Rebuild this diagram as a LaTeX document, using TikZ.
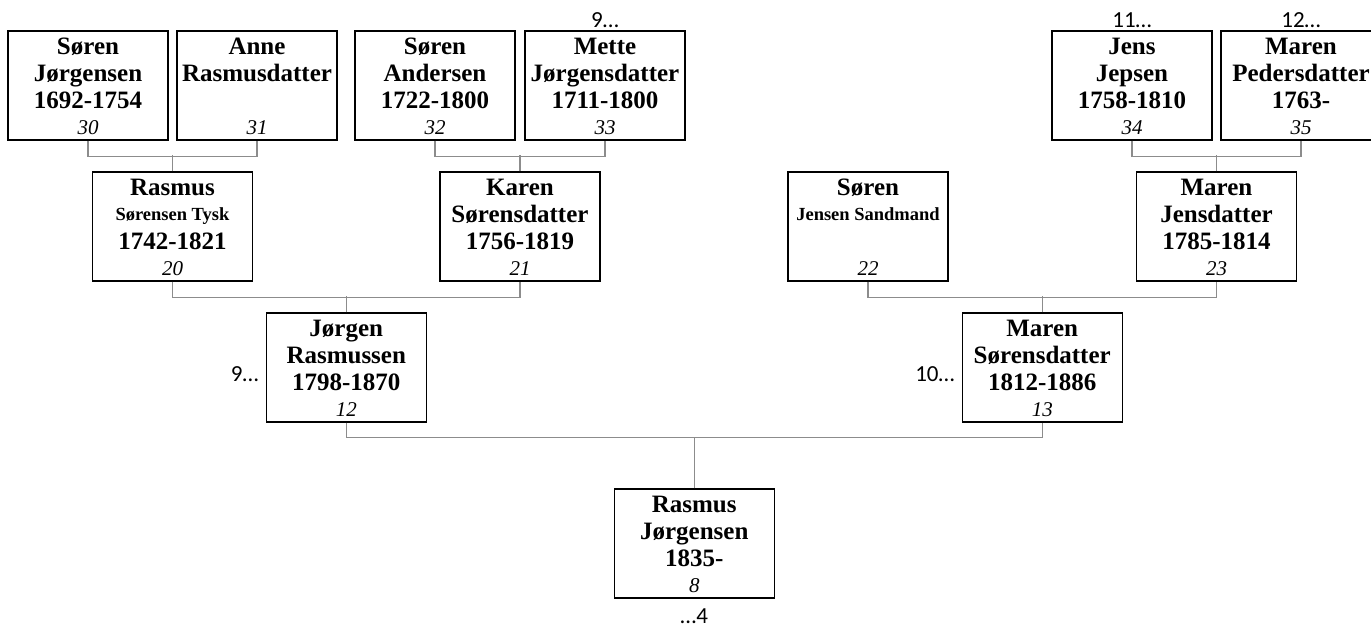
\documentclass[tikz,border=0pt]{standalone}
\usepackage{fontspec}
\setmainfont{Liberation Serif}
\newfontfamily\lblfont{Carlito}
\usetikzlibrary{calc}
\tikzset{
  pbox/.style={draw=black, line width=1.1pt, minimum width=160pt, minimum height=109pt, inner sep=0pt, fill=white},
  nm/.style={font=\fontsize{25}{27}\selectfont\bfseries, inner sep=0pt, anchor=base},
  num/.style={font=\fontsize{21}{22}\selectfont\itshape, inner sep=0pt, anchor=base},
  lbl/.style={font=\fontsize{23}{24}\selectfont\lblfont, inner sep=0pt},
  conn/.style={draw=black!45, line width=1.1pt}
}
\newcommand\sm[1]{{\fontsize{18.5}{20}\selectfont #1}}
% #1 id, #2 center x, #3 top y, #4 line1, #5 line2, #6 line3, #7 number
\newcommand\person[7]{%
  \node[pbox] (#1) at (#2,#3+54.5) {};
  \node[nm] (#1-a) at ($(#1.north)+(0,24.5)$) {#4};
  \node[nm] (#1-b) at ($(#1.north)+(0,51.5)$) {#5};
  \node[nm] (#1-c) at ($(#1.north)+(0,78.5)$) {#6};
  \node[num] (#1-n) at ($(#1.south)+(0,-6)$) {#7};
}
\begin{document}
\begin{tikzpicture}[x=1pt,y=-1pt]
\useasboundingbox (0,0) rectangle (1371,627);
\begin{scope}
\clip (0,0) rectangle (1371,627);
% row 1
\person{p30}{88}{31}{Søren}{Jørgensen}{1692-1754}{30}
\person{p31}{257}{31}{Anne}{Rasmusdatter}{}{31}
\person{p32}{435}{31}{Søren}{Andersen}{1722-1800}{32}
\person{p33}{605}{31}{Mette}{Jørgensdatter}{1711-1800}{33}
\person{p34}{1132}{31}{Jens}{Jepsen}{1758-1810}{34}
\person{p35}{1301}{31}{Maren}{Pedersdatter}{1763-}{35}
% row 2
\person{p20}{172.5}{172}{Rasmus}{\raisebox{2pt}{\sm{Sørensen Tysk}}}{1742-1821}{20}
\person{p21}{520}{172}{Karen}{Sørensdatter}{1756-1819}{21}
\person{p22}{868}{172}{Søren}{\raisebox{2pt}{\sm{Jensen Sandmand}}}{}{22}
\person{p23}{1216.5}{172}{Maren}{Jensdatter}{1785-1814}{23}
% row 3
\person{p12}{346.25}{313}{Jørgen}{Rasmussen}{1798-1870}{12}
\person{p13}{1042.25}{313}{Maren}{Sørensdatter}{1812-1886}{13}
% row 4
\person{p8}{694.25}{489}{Rasmus}{Jørgensen}{1835-}{8}
\end{scope}
% connectors
\draw[conn] (p30.south) -- ++(0,16) -| (p31.south);
\draw[conn] (p20.north) -- ++(0,-16);
\draw[conn] (p32.south) -- ++(0,16) -| (p33.south);
\draw[conn] (p21.north) -- ++(0,-16);
\draw[conn] (p34.south) -- ++(0,16) -| (p35.south);
\draw[conn] (p23.north) -- ++(0,-16);
\draw[conn] (p20.south) -- ++(0,16) -| (p21.south);
\draw[conn] (p12.north) -- ++(0,-16);
\draw[conn] (p22.south) -- ++(0,16) -| (p23.south);
\draw[conn] (p13.north) -- ++(0,-16);
\draw[conn] (p12.south) -- ++(0,15) -| (p13.south);
\draw[conn] (p8.north) -- ++(0,-51);
% continuation labels
\node[lbl, anchor=base] (l9a) at ($(p33.north)+(0,-3)$) {9…};
\node[lbl, anchor=base] (l11) at ($(p34.north)+(0,-3)$) {11…};
\node[lbl, anchor=base] (l12) at ($(p35.north)+(0,-3)$) {12…};
\node[lbl, anchor=base east] (l9b) at ($(p12.west)+(-7,14)$) {9…};
\node[lbl, anchor=base east] (l10) at ($(p13.west)+(-7,14)$) {10…};
\node[lbl, anchor=base] (l4) at ($(p8.south)+(0,24.5)$) {…4};
\end{tikzpicture}
\end{document}
